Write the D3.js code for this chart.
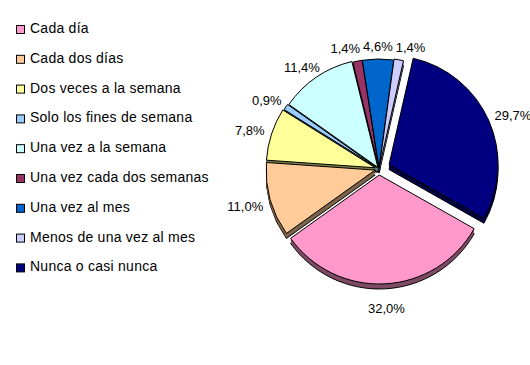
<!DOCTYPE html>
<html>
<head>
<meta charset="utf-8">
<script src="https://cdn.jsdelivr.net/npm/d3@7"></script>
<style>
  body { margin: 0; background: #fff; }
  svg { display: block; font-family: "Liberation Sans", Arial, sans-serif; }
</style>
</head>
<body>
<div id="chart"></div>
<script>
// Chart data
const categories = [
  "Cada día",
  "Cada dos días",
  "Dos veces a la semana",
  "Solo los fines de semana",
  "Una vez a la semana",
  "Una vez cada dos semanas",
  "Una vez al mes",
  "Menos de una vez al mes",
  "Nunca o casi nunca",
];
const values = [32.0, 11.0, 7.8, 0.9, 11.4, 1.4, 4.6, 1.4, 29.7];
const colors = [
  "#ff99cc",
  "#ffcc99",
  "#ffff99",
  "#99ccff",
  "#ccffff",
  "#993366",
  "#0066cc",
  "#ccccff",
  "#000080",
];
// how far each slice is pulled out of the pie (px)
const explode = [6, 4, 4, 3, 2, 1, 1, 2, 11];

const width = 530;
const height = 365;
const cx = 379;
const cy = 169;
const radius = 109;
const depth = 5;

const svg = d3
  .select("#chart")
  .append("svg")
  .attr("width", width)
  .attr("height", height);

// Legend
const legendY = d3
  .scalePoint()
  .domain(categories)
  .range([33, 33 + 8 * 29.8]);

const legend = svg
  .selectAll(".legend")
  .data(categories)
  .enter()
  .append("g")
  .attr("class", "legend")
  .attr("transform", (d) => `translate(0,${legendY(d)})`);

legend
  .append("rect")
  .attr("x", 16.5)
  .attr("y", -7.5)
  .attr("width", 8)
  .attr("height", 8)
  .attr("fill", (d, i) => colors[i])
  .attr("stroke", "#000")
  .attr("stroke-width", 1);

legend
  .append("text")
  .attr("x", 30)
  .attr("y", 0)
  .style("font-size", "14px")
  .style("letter-spacing", "0.25px")
  .attr("fill", "#000")
  .text((d) => d);

// Pie
const startAngle = (119.5 * Math.PI) / 180;
const pie = d3
  .pie()
  .sort(null)
  .value((d) => d)
  .startAngle(startAngle)
  .endAngle(startAngle + 2 * Math.PI);

const arcs = pie(values);
const arc = d3.arc().innerRadius(0).outerRadius(radius);

function offset(d, i) {
  const mid = (d.startAngle + d.endAngle) / 2;
  return [Math.sin(mid) * explode[i], -Math.cos(mid) * explode[i]];
}

const pieG = svg.append("g").attr("transform", `translate(${cx},${cy})`);

// side walls (darker copies shifted down)
for (let k = depth; k >= 1; k--) {
  pieG
    .selectAll(`.wall${k}`)
    .data(arcs)
    .enter()
    .append("path")
    .attr("d", arc)
    .attr("transform", (d, i) => {
      const o = offset(d, i);
      return `translate(${o[0]},${o[1] + k})`;
    })
    .attr("fill", (d, i) => d3.rgb(colors[i]).darker(2))
    .attr("stroke", k === depth ? "#000" : "none")
    .attr("stroke-width", 1);
}

// top faces
pieG
  .selectAll(".slice")
  .data(arcs)
  .enter()
  .append("path")
  .attr("class", "slice")
  .attr("d", arc)
  .attr("transform", (d, i) => {
    const o = offset(d, i);
    return `translate(${o[0]},${o[1]})`;
  })
  .attr("fill", (d, i) => colors[i])
  .attr("stroke", "#000")
  .attr("stroke-width", 1);

// Percentage labels, outside each slice
const fmt = (v) => d3.format(".1f")(v).replace(".", ",") + "%";
const labelGap = 8;
const labelH = 10;

const labels = pieG
  .selectAll(".label")
  .data(arcs)
  .enter()
  .append("text")
  .attr("class", "label")
  .style("font-size", "13px")
  .attr("text-anchor", "middle")
  .attr("fill", "#000")
  .text((d) => fmt(d.data));

const pos = [];
labels.each(function (d, i) {
  const mid = (d.startAngle + d.endAngle) / 2;
  const sx = Math.sin(mid);
  const sy = -Math.cos(mid);
  const w = this.getComputedTextLength();
  const r = radius + explode[i] + labelGap;
  pos[i] = {
    x: sx * r + (sx * w) / 2,
    y: sy * r + (sy * labelH) / 2 + 11 * Math.max(sy, 0),
    w: w,
  };
});

// push apart labels that crowd together at the top of the pie
const topLabels = pos
  .map((p, i) => i)
  .filter((i) => pos[i].y < -radius)
  .sort((a, b) => pos[a].x - pos[b].x);
for (let it = 0; it < 30; it++) {
  for (let j = 1; j < topLabels.length; j++) {
    const a = pos[topLabels[j - 1]];
    const b = pos[topLabels[j]];
    const overlap = a.x + a.w / 2 + 3 - (b.x - b.w / 2);
    if (overlap > 0) {
      a.x -= overlap / 2;
      b.x += overlap / 2;
    }
  }
}

labels
  .attr("x", (d, i) => pos[i].x)
  .attr("y", (d, i) => pos[i].y + labelH / 2);
</script>
</body>
</html>
